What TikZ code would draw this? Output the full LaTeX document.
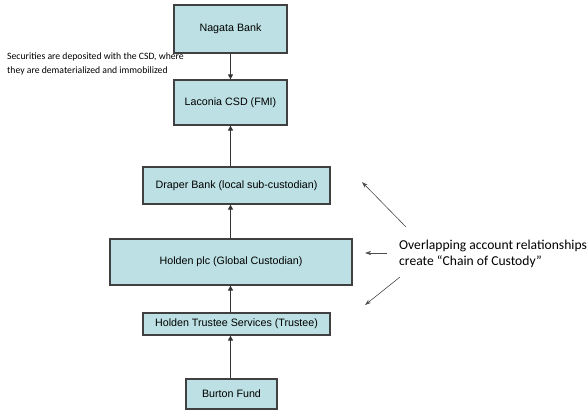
\documentclass[tikz,border=0pt]{standalone}
\usepackage{fontspec}
\setmainfont{Liberation Sans}
\newfontfamily\calib{Carlito}
\usetikzlibrary{arrows.meta}
\begin{document}
\begin{tikzpicture}[x=1pt,y=-1pt,
  boxstyle/.style={draw=black!75,line width=1.3pt,fill=boxfill,inner sep=0pt,font=\fontsize{10.7}{12}\selectfont},
  conn/.style={draw=black!80,line width=1.2pt,-{Triangle[length=5pt,width=5pt]}},
  thinarr/.style={draw=black!70,line width=0.6pt,-{Stealth[length=6pt,width=4pt]}}]
\definecolor{boxfill}{HTML}{BCE0E3}
\useasboundingbox (0,0) rectangle (588,411);
\node[boxstyle,minimum width=113pt,minimum height=48pt] (nagata) at (230.5,29) {Nagata Bank};
\node[boxstyle,minimum width=113pt,minimum height=45pt] (laconia) at (230.5,102.5) {Laconia CSD (FMI)};
\node[boxstyle,minimum width=187pt,minimum height=37pt] (draper) at (236.5,185.5) {Draper Bank (local sub-custodian)};
\node[boxstyle,minimum width=242pt,minimum height=46pt] (holden) at (231,262) {Holden plc (Global Custodian)};
\node[boxstyle,minimum width=187pt,minimum height=22pt] (trustee) at (236.5,324) {Holden Trustee Services (Trustee)};
\node[boxstyle,minimum width=91pt,minimum height=30pt] (burton) at (231.5,394) {Burton Fund};
\draw[conn] (nagata.south) -- (laconia.north);
\draw[conn] (draper.north -| laconia.south) -- (laconia.south);
\draw[conn] (holden.north -| laconia.south) -- (draper.south -| laconia.south);
\draw[conn] (trustee.north -| laconia.south) -- (holden.south -| laconia.south);
\draw[conn] (burton.north -| laconia.south) -- (trustee.south -| laconia.south);
\node[anchor=north west,align=left,inner sep=0pt,font=\calib\fontsize{9.7}{14}\selectfont] (note) at (7,53) {Securities are deposited with the CSD, where\\they are dematerialized and immobilized};
\node[anchor=west,align=left,inner sep=0pt,font=\calib\fontsize{13.6}{16}\selectfont] (chain) at (399,254) {Overlapping account relationships\\create “Chain of Custody”};
\coordinate (a1s) at (406,227); \coordinate (a1e) at (362,182);
\coordinate (a2s) at (387,253); \coordinate (a2e) at (365,253);
\coordinate (a3s) at (400,277); \coordinate (a3e) at (365,305);
\draw[thinarr] (a1s) -- (a1e);
\draw[thinarr] (a2s) -- (a2e);
\draw[thinarr] (a3s) -- (a3e);
\end{tikzpicture}
\end{document}
